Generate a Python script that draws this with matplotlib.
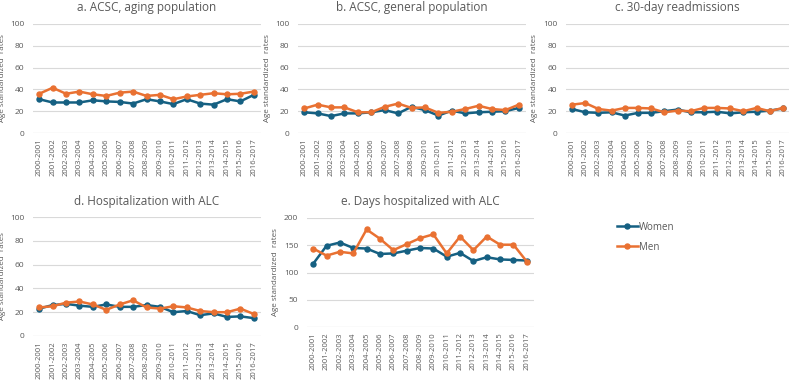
import matplotlib
matplotlib.use("Agg")
import matplotlib.pyplot as plt
from matplotlib.lines import Line2D

plt.rcParams['font.family'] = ['Open Sans', 'DejaVu Sans']

years = ["2000-2001", "2001-2002", "2002-2003", "2003-2004", "2004-2005", "2005-2006",
         "2006-2007", "2007-2008", "2008-2009", "2009-2010", "2010-2011", "2011-2012",
         "2012-2013", "2013-2014", "2014-2015", "2015-2016", "2016-2017"]

titles = ["a. ACSC, aging population", "b. ACSC, general population", "c. 30-day readmissions",
          "d. Hospitalization with ALC", "e. Days hospitalized with ALC"]

women_a = [31, 28, 28, 28, 30, 29, 28.5, 27, 31, 29, 26.5, 31, 27, 26, 31, 29, 35]
men_a = [36, 41.5, 36, 38, 35.5, 34, 37, 38, 34, 35, 31, 33.5, 35, 36.5, 35.5, 36, 38]

women_b = [19, 18, 15.5, 18, 18, 19, 21, 18, 24, 21, 16, 20.5, 18, 19, 19.5, 20, 23]
men_b = [22.5, 26, 23.5, 23.5, 19, 19, 24, 27, 23, 23.5, 18.5, 19.5, 22, 25, 22, 21, 26]

women_c = [22, 19, 18.5, 19, 16, 18.5, 18.5, 20, 21.5, 19, 19, 19.5, 18, 19, 19.5, 20.5, 22.5]
men_c = [26, 27.5, 22, 20.5, 23, 23, 22.5, 19, 20.5, 20, 23, 23, 22.5, 20, 23, 20, 23]

women_d = [23, 26, 27, 25.5, 24.5, 26.5, 24.5, 24.5, 26, 24.5, 20, 21, 17.5, 19, 16, 16.5, 15]
men_d = [24, 25, 28, 29, 26.5, 22, 26.5, 30, 24, 23, 25, 24, 21, 20, 20, 23, 18.5]

women_e = [116, 149, 155, 145, 144, 134, 135, 140, 145, 144, 129, 136, 121, 128, 124, 123, 122]
men_e = [144, 131, 138, 135, 179, 162, 141, 152, 163, 170, 135, 166, 141, 166, 151, 151, 120]

series = [(women_a, men_a), (women_b, men_b), (women_c, men_c), (women_d, men_d), (women_e, men_e)]
ymaxes = [100, 100, 100, 100, 200]
ysteps = [20, 20, 20, 20, 50]

W, H = 795, 381
# pixel boxes: left, right, top, bottom
boxes = [(32.5, 260.5, 24, 133), (297.5, 525.5, 24, 133), (565.5, 789.5, 24, 133),
         (32.5, 260.5, 217, 336), (306.5, 533.5, 218, 327)]
ylabel_x = [6, 271, 538, 6, 279]

blue = "#156082"
orange = "#E97132"
grey = "#595959"
gridc = "#D9D9D9"

fig = plt.figure(figsize=(W / 100, H / 100), dpi=100)
x = list(range(len(years)))
for i, (box, (wv, mv)) in enumerate(zip(boxes, series)):
    l, r, t, b = box
    ax = fig.add_axes([l / W, 1 - b / H, (r - l) / W, (b - t) / H])
    ax.plot(x, wv, color=blue, lw=1.8, marker='o', ms=3.6, zorder=3)
    ax.plot(x, mv, color=orange, lw=1.8, marker='o', ms=3.6, zorder=3)
    ax.set_xlim(-0.5, len(years) - 0.5)
    ax.set_ylim(0, ymaxes[i])
    ax.set_yticks(range(0, ymaxes[i] + 1, ysteps[i]))
    ax.set_xticks(x)
    ax.set_xticklabels(years, rotation=90, fontsize=5.5, color=grey)
    ax.tick_params(axis='y', labelsize=6, colors=grey, length=0, pad=6)
    ax.tick_params(axis='x', length=0, pad=4)
    ax.grid(axis='y', color=gridc, lw=0.8)
    ax.set_axisbelow(True)
    for s in ax.spines.values():
        s.set_visible(False)
    ax.axhline(0, color=gridc, lw=0.8, zorder=1)
    ax.set_ylabel("Age standardized  rates", fontsize=5.8, color=grey)
    ax.yaxis.set_label_coords((ylabel_x[i] - l) / (r - l), 0.5)
    ax.set_title(titles[i], fontsize=8.5, color=grey, pad=9)

handles = [Line2D([], [], color=blue, lw=1.8, marker='o', ms=3.6),
           Line2D([], [], color=orange, lw=1.8, marker='o', ms=3.6)]
fig.legend(handles, ["Women", "Men"], loc='upper left', bbox_to_anchor=(608 / W, 1 - 213 / H),
           frameon=False, fontsize=7, labelcolor=grey, handlelength=2.2, handletextpad=0.1,
           labelspacing=0.9)

fig.savefig("out.png", dpi=100)
